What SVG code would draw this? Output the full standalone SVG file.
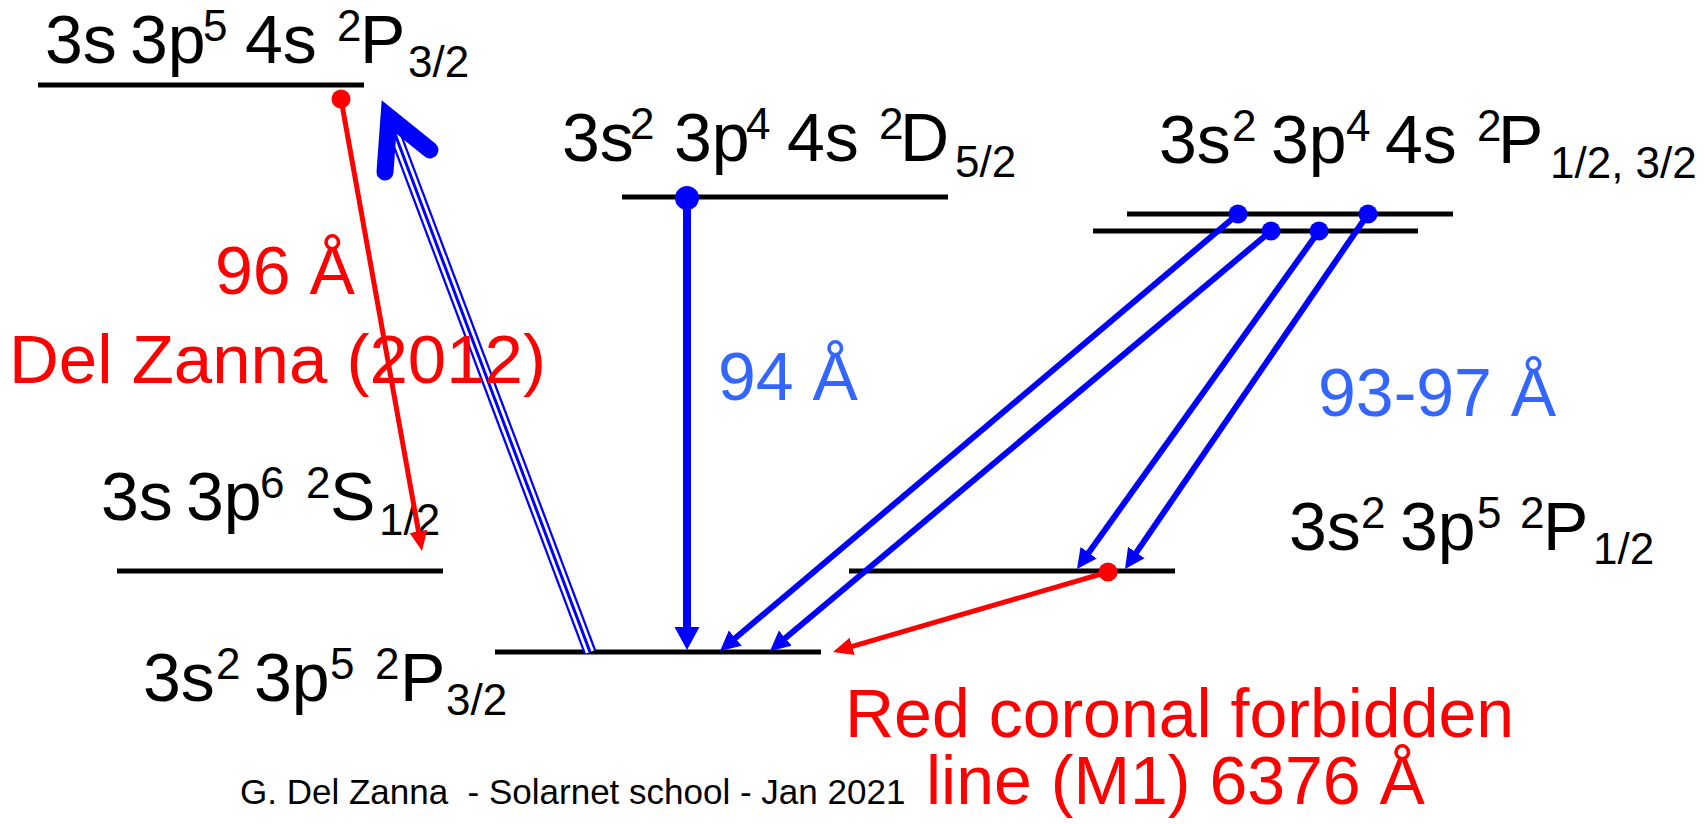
<svg xmlns="http://www.w3.org/2000/svg" width="1705" height="824" viewBox="0 0 1705 824">
<style>
  text{font-family:"Liberation Sans",Arial,sans-serif}
  .m{font-size:68px}
  .s{font-size:44px}
  .blk{fill:#000}
  .red{fill:#FF0000}
  .lb{fill:#3366FF}
  .ft{font-size:35px;fill:#000;white-space:pre}
  .lvl{stroke:#000;stroke-width:5;fill:none}
  .ab{stroke:#0000FF;stroke-width:6;fill:none}
  .abig{stroke:#0000FF;stroke-width:8;fill:none}
  .ar{stroke:#FF0000;stroke-width:5;fill:none}
  .dbo{stroke:#0000FF;stroke-width:13}
  .dbw{stroke:#FFFFFF;stroke-width:8.5}
  .dbc{stroke:#0000FF;stroke-width:3}
  .chev{stroke:#0000FF;stroke-width:17;fill:none;stroke-linecap:round;stroke-linejoin:miter}
  .db{fill:#0000FF}
  .dr{fill:#FF0000}
</style>
<defs>
  <marker id="hBlue" markerUnits="userSpaceOnUse" viewBox="0 -11 22 22" markerWidth="22" markerHeight="22" refX="8" refY="0" orient="auto">
    <path d="M0,-10 L20,0 L0,10 z" fill="#0000FF"/>
  </marker>
  <marker id="hBlueBig" markerUnits="userSpaceOnUse" viewBox="0 -14 25 28" markerWidth="25" markerHeight="28" refX="8" refY="0" orient="auto">
    <path d="M0,-12.5 L23,0 L0,12.5 z" fill="#0000FF"/>
  </marker>
  <marker id="hRed" markerUnits="userSpaceOnUse" viewBox="0 -10 22 20" markerWidth="22" markerHeight="20" refX="8" refY="0" orient="auto">
    <path d="M0,-9 L20,0 L0,9 z" fill="#FF0000"/>
  </marker>
</defs>
<rect width="1705" height="824" fill="#FFFFFF"/>

<g id="node-3s3p5-4s-2P32">
  <line class="lvl" x1="38" y1="85" x2="364" y2="85"/>
  <text class="blk"><tspan class="m" x="45" y="63">3s</tspan><tspan class="m" x="130" y="63">3p</tspan><tspan class="s" x="203" y="41">5</tspan><tspan class="m" x="245" y="63">4s</tspan><tspan class="s" x="337" y="41">2</tspan><tspan class="m" x="360" y="63">P</tspan><tspan class="s" x="408" y="77">3/2</tspan></text>
</g>

<g id="node-3s2-3p4-4s-2D52">
  <line class="lvl" x1="622" y1="197" x2="948" y2="197"/>
  <text class="blk"><tspan class="m" x="562" y="161">3s</tspan><tspan class="s" x="630" y="139">2</tspan><tspan class="m" x="674" y="161">3p</tspan><tspan class="s" x="746" y="139">4</tspan><tspan class="m" x="787" y="161">4s</tspan><tspan class="s" x="879" y="139">2</tspan><tspan class="m" x="900" y="161">D</tspan><tspan class="s" x="955" y="177">5/2</tspan></text>
</g>

<g id="node-3s2-3p4-4s-2P">
  <line class="lvl" x1="1127" y1="214" x2="1453" y2="214"/>
  <line class="lvl" x1="1093" y1="231" x2="1418" y2="231"/>
  <text class="blk"><tspan class="m" x="1159" y="163">3s</tspan><tspan class="s" x="1232" y="141">2</tspan><tspan class="m" x="1271" y="163">3p</tspan><tspan class="s" x="1346" y="141">4</tspan><tspan class="m" x="1385" y="163">4s</tspan><tspan class="s" x="1477" y="141">2</tspan><tspan class="m" x="1498" y="163">P</tspan><tspan class="s" x="1550" y="178">1/2, 3/2</tspan></text>
</g>

<g id="node-3s3p6-2S12">
  <line class="lvl" x1="117" y1="571" x2="443" y2="571"/>
  <text class="blk"><tspan class="m" x="101" y="520">3s</tspan><tspan class="m" x="186" y="520">3p</tspan><tspan class="s" x="260" y="498">6</tspan><tspan class="s" x="306" y="498">2</tspan><tspan class="m" x="330" y="520">S</tspan><tspan class="s" x="379" y="535">1/2</tspan></text>
</g>

<g id="node-3s2-3p5-2P12">
  <line class="lvl" x1="849" y1="571" x2="1175" y2="571"/>
  <text class="blk"><tspan class="m" x="1289" y="550">3s</tspan><tspan class="s" x="1361" y="528">2</tspan><tspan class="m" x="1400" y="550">3p</tspan><tspan class="s" x="1477" y="528">5</tspan><tspan class="s" x="1520" y="528">2</tspan><tspan class="m" x="1543" y="550">P</tspan><tspan class="s" x="1593" y="564">1/2</tspan></text>
</g>

<g id="node-3s2-3p5-2P32">
  <line class="lvl" x1="495" y1="652" x2="821" y2="652"/>
  <text class="blk"><tspan class="m" x="143" y="701">3s</tspan><tspan class="s" x="216" y="679">2</tspan><tspan class="m" x="254" y="701">3p</tspan><tspan class="s" x="330" y="679">5</tspan><tspan class="s" x="375" y="679">2</tspan><tspan class="m" x="400" y="701">P</tspan><tspan class="s" x="446" y="715">3/2</tspan></text>
</g>

<g id="connectors">
  <line class="dbo" x1="590" y1="652" x2="392" y2="126"/>
  <line class="dbw" x1="590" y1="652" x2="392" y2="126"/>
  <line class="dbc" x1="590" y1="652" x2="392" y2="126"/>
  <polyline class="chev" points="385,172 389,117 430,150"/>

  <line class="ar" x1="341" y1="99" x2="419.9" y2="539.2" marker-end="url(#hRed)"/>
  <circle class="dr" cx="341" cy="99" r="9.5"/>

  <line class="abig" x1="687" y1="198" x2="687" y2="635" marker-end="url(#hBlueBig)"/>
  <circle class="db" cx="687" cy="198" r="12"/>

  <line class="ab" x1="1238" y1="214" x2="729.2" y2="643.3" marker-end="url(#hBlue)"/>
  <line class="ab" x1="1271" y1="231" x2="779.2" y2="643.3" marker-end="url(#hBlue)"/>
  <line class="ab" x1="1319" y1="231" x2="1084" y2="559.2" marker-end="url(#hBlue)"/>
  <line class="ab" x1="1368" y1="214" x2="1131.8" y2="559.1" marker-end="url(#hBlue)"/>
  <circle class="db" cx="1238" cy="214" r="9.5"/>
  <circle class="db" cx="1271" cy="231" r="9.5"/>
  <circle class="db" cx="1319" cy="231" r="9.5"/>
  <circle class="db" cx="1368" cy="214" r="9.5"/>

  <line class="ar" x1="1108" y1="572" x2="844.5" y2="648.6" marker-end="url(#hRed)"/>
  <circle class="dr" cx="1108" cy="572" r="9.5"/>
</g>

<g id="labels">
  <text class="m red" x="215" y="294">96 Å</text>
  <text class="red" style="font-size:69px" x="9" y="383">Del Zanna (2012)</text>
  <text class="m lb" x="718" y="400">94 Å</text>
  <text class="m lb" x="1318" y="416">93-97 Å</text>
  <text class="m red" x="845" y="737">Red coronal forbidden</text>
  <text class="m red" x="926" y="804">line (M1) 6376 Å</text>
  <text class="ft" x="240" y="804">G. Del Zanna  - Solarnet school - Jan 2021</text>
</g>
</svg>
